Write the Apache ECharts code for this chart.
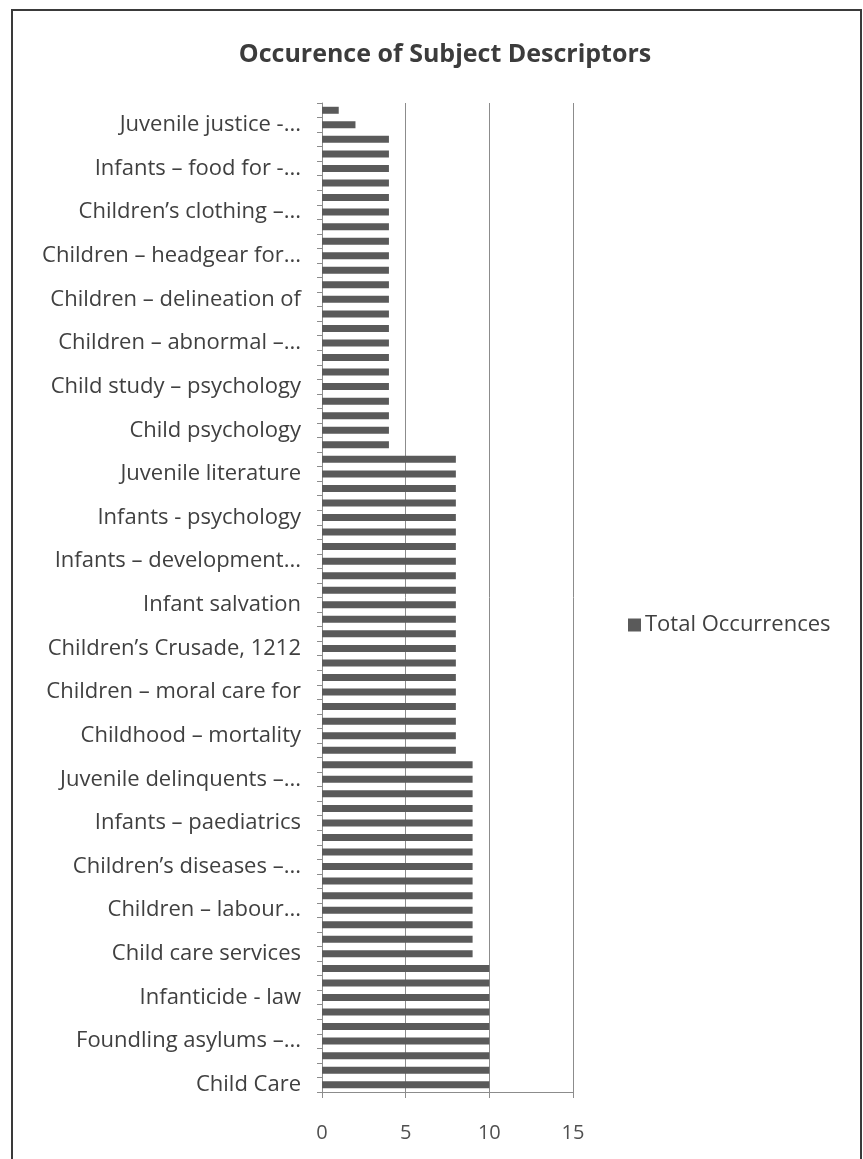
<!DOCTYPE html>
<html>
<head>
<meta charset="utf-8">
<script src="https://cdn.jsdelivr.net/npm/echarts@6/dist/echarts.min.js"></script>
<style>
  html, body { margin: 0; padding: 0; background: #ffffff; }
  #chart { width: 863px; height: 1159px; }
</style>
</head>
<body>
<div id="chart"></div>
<script>
// Descriptor labels, bottom to top; one label is printed for every third bar.
const descriptorLabels = [
  'Child Care',
  'Foundling asylums –...',
  'Infanticide - law',
  'Child care services',
  'Children – labour...',
  'Children’s diseases –...',
  'Infants – paediatrics',
  'Juvenile delinquents –...',
  'Childhood – mortality',
  'Children – moral care for',
  'Children’s Crusade, 1212',
  'Infant salvation',
  'Infants – development...',
  'Infants - psychology',
  'Juvenile literature',
  'Child psychology',
  'Child study – psychology',
  'Children – abnormal –...',
  'Children – delineation of',
  'Children – headgear for...',
  'Children’s clothing –...',
  'Infants – food for -...',
  'Juvenile justice -...'
];

// Total occurrences per subject descriptor, bottom bar first.
const totalOccurrences = [
  10, 10, 10, 10, 10, 10, 10, 10, 10,
  9, 9, 9, 9, 9, 9, 9, 9, 9, 9, 9, 9, 9, 9,
  8, 8, 8, 8, 8, 8, 8, 8, 8, 8, 8, 8, 8, 8, 8, 8, 8, 8, 8, 8, 8,
  4, 4, 4, 4, 4, 4, 4, 4, 4, 4, 4, 4, 4, 4, 4, 4, 4, 4, 4, 4, 4, 4,
  2, 1
];

const xTicks = [0, 5, 10, 15];
const seriesName = 'Total Occurrences';

// Every category slot gets a name; only every third one carries a printed label.
const categories = totalOccurrences.map((v, i) =>
  i % 3 === 0 ? (descriptorLabels[i / 3] || '') : '');

const chart = echarts.init(document.getElementById('chart'), null, { renderer: 'canvas' });

chart.setOption({
  backgroundColor: '#ffffff',
  animation: false,
  title: {
    text: 'Occurence of Subject Descriptors',
    left: 440,
    textAlign: 'center',
    top: 37,
    textStyle: {
      fontFamily: 'Open Sans',
      fontWeight: 'bold',
      fontSize: 25,
      color: '#3c3c3c'
    }
  },
  legend: {
    data: [seriesName],
    left: 623,
    top: 609,
    icon: 'rect',
    itemWidth: 13,
    itemHeight: 13,
    itemGap: 6,
    textStyle: {
      fontFamily: 'Open Sans',
      fontSize: 22,
      color: '#404040',
      padding: [0, 0, 0, -1]
    }
  },
  graphic: [{
    type: 'rect',
    shape: { x: 12, y: 10, width: 849, height: 1160 },
    style: { fill: 'none', stroke: '#3a3a3a', lineWidth: 2 },
    silent: true
  }],
  grid: {
    left: 322,
    top: 103,
    width: 251,
    height: 989,
    containLabel: false
  },
  xAxis: {
    type: 'value',
    min: xTicks[0],
    max: xTicks[xTicks.length - 1],
    interval: 5,
    axisLine: { show: true, lineStyle: { color: '#8c8c8c', width: 1 } },
    axisTick: { show: true, length: 6, lineStyle: { color: '#8c8c8c' } },
    splitLine: { show: true, lineStyle: { color: '#8c8c8c', width: 1 } },
    axisLabel: {
      margin: 31,
      fontFamily: 'Open Sans',
      fontSize: 20,
      color: '#505050'
    }
  },
  yAxis: {
    type: 'category',
    data: categories,
    axisLine: { show: true, lineStyle: { color: '#8c8c8c', width: 1 } },
    axisTick: { show: true, interval: 0, length: 5, lineStyle: { color: '#8c8c8c' } },
    splitLine: { show: false },
    axisLabel: {
      interval: 0,
      margin: 21,
      fontFamily: 'Open Sans',
      fontSize: 22,
      color: '#404040'
    }
  },
  series: [{
    name: seriesName,
    type: 'bar',
    data: totalOccurrences,
    barWidth: 7,
    itemStyle: { color: '#5a5a5a' }
  }]
});
</script>
</body>
</html>
